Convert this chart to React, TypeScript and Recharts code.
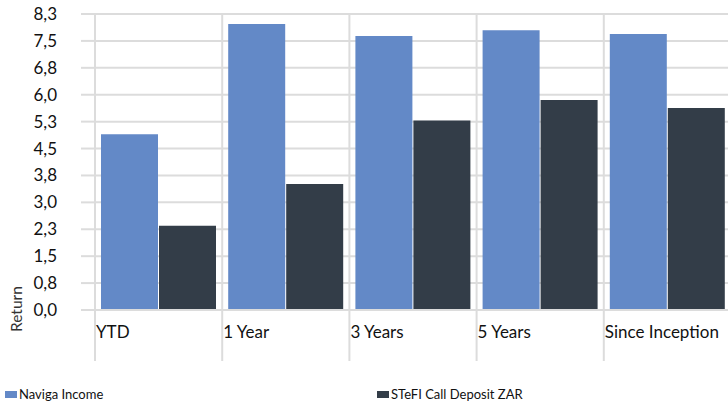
import { Bar, BarChart, CartesianGrid, XAxis, YAxis } from "recharts";

const categories = ["YTD", "1 Year", "3 Years", "5 Years", "Since Inception"];
const navigaIncome = [4.9, 7.97, 7.64, 7.8, 7.69];
const stefiCallDeposit = [2.35, 3.51, 5.28, 5.85, 5.63];
const yTicks = [0, 0.75, 1.5, 2.25, 3, 3.75, 4.5, 5.25, 6, 6.75, 7.5, 8.25];

const series = [
  { key: "naviga", name: "Naviga Income", color: "#6389c7" },
  { key: "stefi", name: "STeFI Call Deposit ZAR", color: "#333d48" },
];

const data = categories.map((name, i) => ({
  name,
  naviga: navigaIncome[i],
  stefi: stefiCallDeposit[i],
}));

const GRID = "#dcdcdc";
const FONT = "Lato, 'Open Sans', sans-serif";
const TOP = 14;

const fmt = (v: number) => v.toFixed(1).replace(".", ",");

function CategoryTick(props: any) {
  const { x, y, payload } = props;
  const half = payload && payload.offset ? payload.offset : 63.6;
  const left = x - half;
  return (
    <g>
      <line x1={left} x2={left} y1={TOP} y2={y + 51} stroke={GRID} strokeWidth={2} />
      <text x={left + 1} y={y + 28} fontSize={17} fontFamily={FONT} fill="#111">
        {payload.value}
      </text>
    </g>
  );
}

function ReturnLabel(props: any) {
  const vb = props.viewBox || { x: 0, y: 0, height: 296 };
  const x = vb.x + 22;
  const y = vb.y + vb.height + 22;
  return (
    <text
      x={x}
      y={y}
      transform={`rotate(-90 ${x} ${y})`}
      fontSize={15.5}
      fontFamily={FONT}
      fill="#333"
    >
      Return
    </text>
  );
}

export default function App() {
  return (
    <div style={{ position: "relative", width: 728, height: 405, overflow: "hidden", background: "#fff" }}>
      <style>{"body{margin:0}"}</style>
      <BarChart
        width={740}
        height={405}
        data={data}
        margin={{ top: TOP, right: 9, bottom: 45, left: 0 }}
        barCategoryGap={6}
        barGap={1}
      >
        <CartesianGrid vertical={false} stroke={GRID} strokeWidth={2} />
        <XAxis
          dataKey="name"
          interval={0}
          height={50}
          tickSize={0}
          tickMargin={0}
          tickLine={false}
          axisLine={{ stroke: GRID, strokeWidth: 2 }}
          tick={<CategoryTick />}
        />
        <YAxis
          width={95}
          domain={[0, 8.25]}
          ticks={yTicks}
          interval={0}
          tickFormatter={fmt}
          axisLine={false}
          tickSize={14}
          tickMargin={24}
          tickLine={{ stroke: GRID, strokeWidth: 2 }}
          tick={{ fontSize: 17, fontFamily: FONT, fill: "#111" }}
          label={<ReturnLabel />}
        />
        {series.map((s) => (
          <Bar key={s.key} dataKey={s.key} name={s.name} fill={s.color} isAnimationActive={false} />
        ))}
      </BarChart>
      {series.map((s, i) => (
        <div
          key={s.key}
          style={{
            position: "absolute",
            left: i === 0 ? 5 : 377,
            top: 386,
            display: "flex",
            alignItems: "center",
            fontFamily: FONT,
            fontSize: 13,
            color: "#111",
            whiteSpace: "nowrap",
          }}
        >
          <span style={{ display: "inline-block", width: 12, height: 7, background: s.color, marginRight: 2 }} />
          {s.name}
        </div>
      ))}
    </div>
  );
}
